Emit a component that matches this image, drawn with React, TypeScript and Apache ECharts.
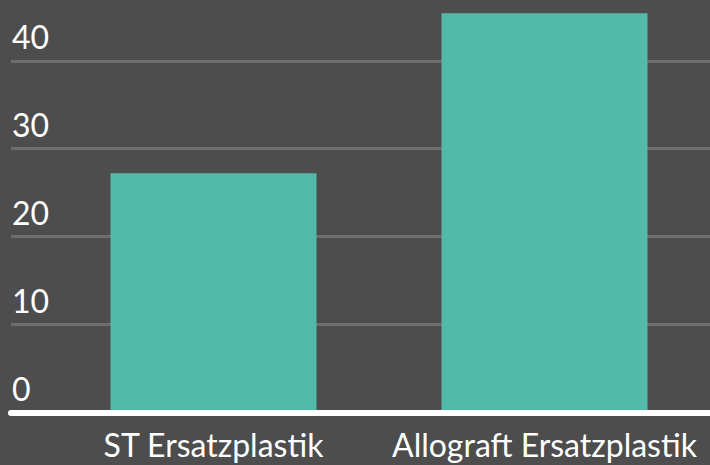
import React, { useEffect, useRef } from "react";
import * as echarts from "echarts";

const categories = ["ST Ersatzplastik", "Allograft Ersatzplastik"];
const values = [27.2, 45.4];
const yMin = 0;
const yMax = 46;
const yInterval = 10;

export default function App() {
  const ref = useRef<HTMLDivElement>(null);
  useEffect(() => {
    if (!ref.current) return;
    const chart = echarts.init(ref.current, undefined, { renderer: "svg" });
    const font = "Lato";
    chart.setOption({
      animation: false,
      backgroundColor: "#4d4d4d",
      grid: [
        { left: 48, width: 668, top: 8, bottom: 52.5 },
        { left: 11, right: 0, top: 8, bottom: 52.5 },
      ],
      xAxis: [
        {
          type: "category",
          gridIndex: 0,
          data: categories,
          axisLine: { show: false },
          axisTick: { show: false },
          axisLabel: {
            interval: 0,
            hideOverlap: false,
            color: "#ffffff",
            fontFamily: font,
            fontSize: 32,
            margin: 16,
          },
        },
        {
          type: "category",
          gridIndex: 1,
          data: [""],
          z: 5,
          axisLine: { show: true, lineStyle: { color: "#ffffff", width: 6 } },
          axisTick: { show: false },
          axisLabel: { show: false },
        },
      ],
      yAxis: [
        { type: "value", gridIndex: 0, min: yMin, max: yMax, interval: yInterval, show: false },
        {
          type: "value",
          gridIndex: 1,
          min: yMin,
          max: yMax,
          interval: yInterval,
          axisLine: { show: false },
          axisTick: { show: false },
          splitLine: {
            show: true,
            showMaxLine: false,
            lineStyle: { color: "#6e6e6e", width: 3 },
          },
          axisLabel: {
            inside: true,
            showMaxLabel: false,
            color: "#ffffff",
            fontFamily: font,
            fontSize: 32,
            margin: 1,
            align: "left",
            verticalAlign: "bottom",
            padding: [0, 0, 8, 0],
          },
        },
      ],
      series: [
        {
          type: "bar",
          xAxisIndex: 0,
          yAxisIndex: 0,
          data: values,
          barWidth: 206,
          itemStyle: { color: "#53b9aa" },
        },
      ],
    });
    return () => chart.dispose();
  }, []);
  return (
    <div
      ref={ref}
      style={{ position: "fixed", left: 0, top: 0, width: 710, height: 465 }}
    />
  );
}
